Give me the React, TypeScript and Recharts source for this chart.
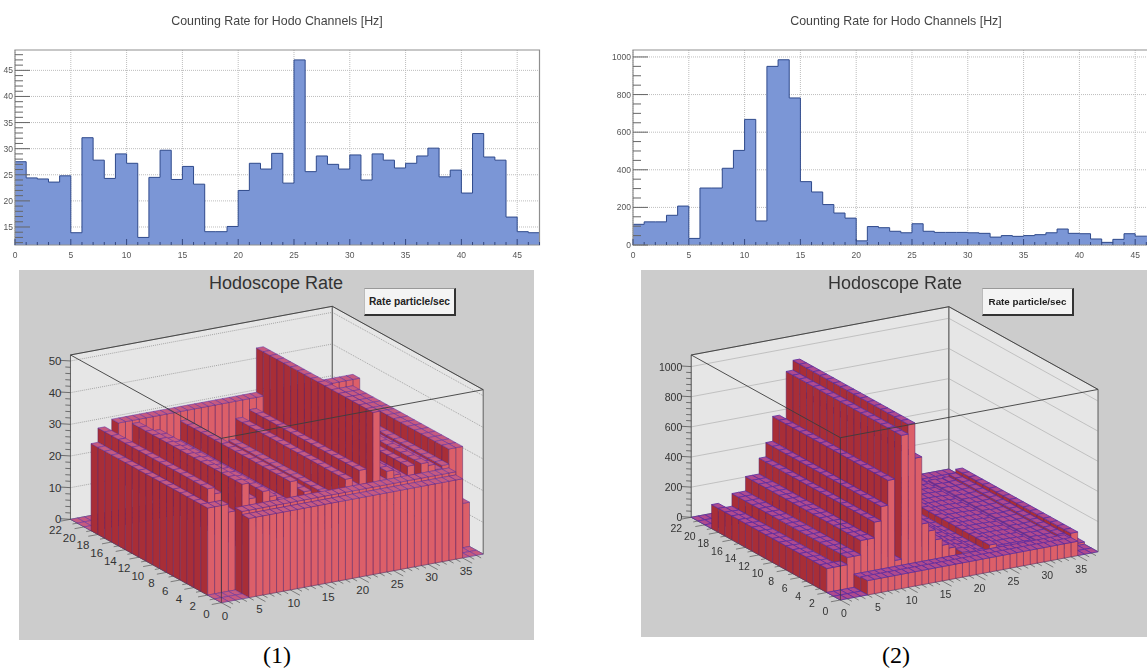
import { Area, AreaChart, CartesianGrid, ReferenceArea, Scatter, ScatterChart, XAxis, YAxis } from 'recharts'

// counting rate per hodoscope channel, one value per bin
const channels = [0, 1, 2, 3, 4, 5, 6, 7, 8, 9, 10, 11, 12, 13, 14, 15, 16, 17, 18, 19, 20, 21, 22, 23, 24, 25, 26, 27, 28, 29, 30, 31, 32, 33, 34, 35, 36, 37, 38, 39, 40, 41, 42, 43, 44, 45, 46, 47]
const ratesA = [27.5, 24.4, 24.2, 23.6, 24.8, 13.9, 32.1, 27.8, 24.3, 29, 27.2, 13, 24.5, 29.7, 24.1, 26.6, 23.2, 14.1, 14.1, 15.1, 22, 27.2, 26.1, 29.1, 23.4, 47, 25.6, 28.6, 27, 26.1, 28.8, 24, 29, 27.8, 26.3, 27.2, 28.6, 30.1, 24.6, 25.9, 21.5, 32.9, 28.4, 27.8, 16.9, 14.1, 13.9, 13.9]
const ratesB = [110, 123, 123, 158, 207, 35, 303, 303, 408, 503, 668, 128, 950, 985, 782, 337, 282, 215, 170, 143, 22, 98, 92, 73, 65, 113, 73, 67, 67, 67, 65, 62, 42, 50, 46, 50, 55, 65, 85, 62, 60, 32, 14, 30, 60, 47, 47, 47]

const xMajor = [0, 5, 10, 15, 20, 25, 30, 35, 40, 45]
const yMajorA = [15, 20, 25, 30, 35, 40, 45]
const yMinorA = [12, 13, 14, 16, 17, 18, 19, 21, 22, 23, 24, 26, 27, 28, 29, 31, 32, 33, 34, 36, 37, 38, 39, 41, 42, 43, 44, 46, 47, 48]
const yMajorB = [0, 200, 400, 600, 800, 1000]
const yMinorB = [50, 100, 150, 250, 300, 350, 450, 500, 550, 650, 700, 750, 850, 900, 950]

// lego plots: ridge height along x, and row height along y
const legoColsA = [27.5, 32, 30, 25, 14, 33, 28, 24.5, 29.5, 27.5, 13, 25, 31, 24.5, 27, 23.5, 14, 14, 15, 22, 28.5, 26, 30.5, 23.5, 48, 26, 28.6, 27, 26, 29, 24, 29, 28, 26.3, 27.2, 32, 32, 0]
const legoRowsA = [25, 26, 14, 14, 13, 14, 14, 13, 14, 14, 14, 13, 14, 14, 14, 13, 14, 14, 34, 0, 0, 0]
const legoColsB = [159, 123, 123, 207, 207, 303, 303, 408, 503, 668, 128, 950, 1015, 782, 337, 282, 215, 170, 143, 22, 98, 92, 73, 65, 113, 73, 67, 67, 67, 65, 62, 42, 50, 46, 50, 65, 90, 0]
const legoRowsB = [95, 88, 15, 14, 15, 14, 15, 14, 15, 14, 15, 14, 15, 14, 15, 14, 15, 14, 40, 0, 0, 0]
const xLegoTicks = [0, 5, 10, 15, 20, 25, 30, 35]
const yLegoTicks = [0, 2, 4, 6, 8, 10, 12, 14, 16, 18, 20, 22]
const zTicksA = [0, 10, 20, 30, 40, 50]
const zTicksB = [0, 200, 400, 600, 800, 1000]

type Style = { fill?: string; stroke?: string; sw?: number; dash?: string; text?: string; anchor?: string; size?: number; dx?: number; dy?: number }
type Pt = { px: number; py: number; face: number; vertex: number; last: boolean }
type View = { ox: number; oy: number; ex: [number, number]; ey: [number, number]; ez: number; zTop: number }
type Look = { top: string; edge: number; grid: string; gridDash?: string }

const NX = 38
const NY = 22

const wallFill = '#e6e6e6'
const darkFace = '#a82e37'
const lightFace = '#dc5f69'
const binEdge = '#5b2466'
const topEdge = '#5a2ca0'

function buildLego(view: View, look: Look, cols: number[], rows: number[], zTicks: number[], zMinorStep: number, fontSize: number) {
  const faces: Style[] = []
  const points: Pt[] = []
  const proj = (x: number, y: number, z: number) => ({
    px: view.ox + x * view.ex[0] + y * view.ey[0],
    py: view.oy + x * view.ex[1] + y * view.ey[1] - z * view.ez,
  })
  const add = (verts: number[][], style: Style) => {
    const face = faces.length
    faces.push(style)
    verts.forEach((v, vertex) => {
      points.push({ ...proj(v[0], v[1], v[2]), face, vertex, last: vertex === verts.length - 1 })
    })
  }
  const height = (i: number, j: number) => {
    if (i < 0 || j < 0) return 0
    if (j < 2) return i >= 4 && i < 35 ? rows[j] : 0
    if (j >= 19) return 0
    // first three ridges start level at the front, and rows only begin after them
    if (i < 3) return j === 2 ? cols[0] : cols[i]
    return Math.max(cols[i], rows[j])
  }
  const zt = view.zTop
  // back walls and floor
  add([[0, NY, 0], [0, NY, zt], [NX, NY, zt], [NX, NY, 0]], { fill: wallFill, stroke: '#777', sw: 0.6 })
  add([[NX, NY, 0], [NX, NY, zt], [NX, 0, zt], [NX, 0, 0]], { fill: wallFill, stroke: '#777', sw: 0.6 })
  add([[0, 0, 0], [0, NY, 0], [NX, NY, 0], [NX, 0, 0]], { fill: wallFill, stroke: '#777', sw: 0.6 })
  for (const z of zTicks) {
    if (z === 0) continue
    add([[0, NY, z], [NX, NY, z], [NX, 0, z]], { stroke: look.grid, sw: 0.7, dash: look.gridDash })
  }
  add([[NX, NY, 0], [NX, NY, zt]], { stroke: '#666', sw: 1 })
  add([[0, 0, 0], [0, NY, 0], [0, NY, zt]], { stroke: '#555', sw: 0.8 })

  // bars, far corner first
  for (let j = NY - 1; j >= 0; j--) {
    for (let i = NX - 1; i >= 0; i--) {
      const h = height(i, j)
      const left = height(i - 1, j)
      const front = height(i, j - 1)
      if (h > left) add([[i, j, left], [i, j, h], [i, j + 1, h], [i, j + 1, left]], { fill: darkFace, stroke: binEdge, sw: 0.5 })
      if (h > front) add([[i, j, front], [i, j, h], [i + 1, j, h], [i + 1, j, front]], { fill: lightFace, stroke: binEdge, sw: 0.5 })
      add([[i, j, h], [i + 1, j, h], [i + 1, j + 1, h], [i, j + 1, h]], { fill: look.top, stroke: topEdge, sw: look.edge })
    }
  }

  // front edges of the box go over the bars
  add([[0, NY, zt], [NX, NY, zt], [NX, 0, zt], [0, 0, zt], [0, NY, zt]], { stroke: '#3c3c3c', sw: 0.9 })
  add([[0, 0, zt], [0, 0, 0]], { stroke: '#333', sw: 0.7 })
  add([[NX, 0, zt], [NX, 0, 0]], { stroke: '#666', sw: 0.8 })

  // axes
  for (let z = 0; z <= zTicks[zTicks.length - 1]; z += zMinorStep) {
    const major = zTicks.includes(z)
    add([[0, NY, z], [0 - (major ? 1 : 0.5), NY + (major ? 0.5 : 0.25), z]], { stroke: '#444', sw: 0.7 })
  }
  zTicks.forEach((z) => add([[0, NY, z]], { text: String(z), anchor: 'end', size: fontSize, dx: -9, dy: 4 }))
  for (let x = 0; x <= 37; x++) {
    add([[x, 0, 0], [x, xLegoTicks.includes(x) ? -1.4 : -0.7, 0]], { stroke: '#444', sw: 0.6 })
  }
  for (let y = 0; y <= NY; y++) {
    add([[0, y, 0], [yLegoTicks.includes(y) ? -1.4 : -0.7, y, 0]], { stroke: '#444', sw: 0.6 })
  }
  xLegoTicks.forEach((x) => add([[x, 0, 0]], { text: String(x), anchor: 'middle', size: fontSize, dx: 3.5, dy: 17 }))
  yLegoTicks.forEach((y) => add([[0, y, 0]], { text: String(y), anchor: 'middle', size: fontSize, dx: -15, dy: 15 }))
  return { faces, points }
}

function makeFaceShape(faces: Style[]) {
  const seen: Record<number, string[]> = {}
  return (props: any) => {
    const { cx, cy, payload } = props
    const list = seen[payload.face] ?? (seen[payload.face] = [])
    list[payload.vertex] = `${cx},${cy}`
    if (!payload.last) return <g />
    const s = faces[payload.face]
    if (s.text) {
      return (
        <text x={cx + (s.dx ?? 0)} y={cy + (s.dy ?? 0)} textAnchor={s.anchor as any} fontSize={s.size} fontFamily="Liberation Sans, Arial, sans-serif" fill="#333">
          {s.text}
        </text>
      )
    }
    const pts = list.join(' ')
    if (s.fill) return <polygon points={pts} fill={s.fill} stroke={s.stroke} strokeWidth={s.sw} />
    return <polyline points={pts} fill="none" stroke={s.stroke} strokeWidth={s.sw} strokeDasharray={s.dash} />
  }
}

function LegoPanel(p: { left: number; width: number; height: number; view: View; look: Look; cols: number[]; rows: number[]; zTicks: number[]; zMinorStep: number; fontSize: number; titleX: number; boxX: number; boxFont: number; blur?: number }) {
  const { faces, points } = buildLego(p.view, p.look, p.cols, p.rows, p.zTicks, p.zMinorStep, p.fontSize)
  return (
    <div style={{ position: 'absolute', left: p.left, top: 270, width: p.width, height: p.height, background: '#cccccc', filter: p.blur ? `blur(${p.blur}px)` : undefined }}>
      <ScatterChart width={p.width} height={p.height} margin={{ top: 0, right: 0, bottom: 0, left: 0 }}>
        <XAxis type="number" dataKey="px" domain={[0, p.width]} hide />
        <YAxis type="number" dataKey="py" domain={[0, p.height]} reversed hide />
        <Scatter data={points} shape={makeFaceShape(faces)} isAnimationActive={false} />
      </ScatterChart>
      <div style={{ position: 'absolute', left: p.titleX - p.left - 100, top: 1, width: 200, textAlign: 'center', fontFamily: 'Liberation Sans, Arial, sans-serif', fontSize: 18, lineHeight: '24px', color: '#333' }}>Hodoscope Rate</div>
      <div style={{ position: 'absolute', left: p.boxX - p.left, top: 18, width: 92, height: 28, boxSizing: 'border-box', background: '#f4f4f4', borderTop: '1px solid #999', borderLeft: '1px solid #bbb', borderRight: '2px solid #333', borderBottom: '2px solid #333', textAlign: 'center', fontFamily: 'Liberation Sans, Arial, sans-serif', fontWeight: 700, fontSize: p.boxFont, lineHeight: '25px', color: '#222', whiteSpace: 'nowrap' }}>Rate particle/sec</div>
    </div>
  )
}

function makeYTick(majors: number[]) {
  return (props: any) => {
    const { x, y, payload } = props
    const major = majors.includes(payload.value)
    return (
      <g>
        <line x1={x} x2={x + (major ? 15 : 8)} y1={y} y2={y} stroke="#666" strokeWidth={1} />
        {major && (
          <text x={x - 2} y={y + 3} textAnchor="end" fontSize={8.5} fill="#555" fontFamily="Liberation Sans, Arial, sans-serif">
            {payload.value}
          </text>
        )}
      </g>
    )
  }
}

function XTick(props: any) {
  const { x, y, payload } = props
  const major = xMajor.includes(payload.value)
  return (
    <g>
      <line x1={x} x2={x} y1={y} y2={y - (major ? 6 : 3)} stroke="#34487f" strokeWidth={1} />
      {major && (
        <text x={x} y={y + 13} textAnchor="middle" fontSize={8.5} fill="#555" fontFamily="Liberation Sans, Arial, sans-serif">
          {payload.value}
        </text>
      )}
    </g>
  )
}

function RateHist(p: { left: number; values: number[]; yDomain: number[]; yMajor: number[]; yMinor: number[]; titleX: number }) {
  const data = channels.map((channel, i) => ({ channel, rate: p.values[i] }))
  const plotW = 524.5
  return (
    <>
      <div style={{ position: 'absolute', left: p.titleX - 150, top: 14, width: 300, textAlign: 'center', fontFamily: 'Liberation Sans, Arial, sans-serif', fontSize: 12.4, lineHeight: '14px', color: '#444', filter: 'blur(0.3px)' }}>Counting Rate for Hodo Channels [Hz]</div>
      <div style={{ position: 'absolute', left: p.left - 30, top: 0, filter: 'blur(0.4px)' }}>
        <AreaChart width={plotW + 50} height={270} data={data} margin={{ top: 50, right: 20, bottom: 24, left: 29 }}>
          <CartesianGrid stroke="#bdbdbd" strokeDasharray="1 1" horizontalValues={p.yMajor} verticalValues={xMajor} />
          <Area type="stepAfter" dataKey="rate" stroke="#2f4a8c" strokeWidth={1} fill="#7b96d6" fillOpacity={1} isAnimationActive={false} dot={false} activeDot={false} />
          <XAxis type="number" dataKey="channel" domain={[0, 47]} ticks={channels} interval={0} height={1} axisLine={false} tickLine={false} tickSize={0} tickMargin={0} tick={XTick} />
          <YAxis type="number" domain={p.yDomain} allowDataOverflow ticks={[...p.yMajor, ...p.yMinor]} interval={0} width={1} axisLine={false} tickLine={false} tickSize={0} tickMargin={0} tick={makeYTick(p.yMajor)} />
          <ReferenceArea x1={0} x2={47} y1={p.yDomain[0]} y2={p.yDomain[1]} fill="none" stroke="#8f8f8f" strokeWidth={1.2} ifOverflow="extendDomain" />
        </AreaChart>
      </div>
    </>
  )
}

const viewA: View = { ox: 202.4, oy: 332.7, ex: [6.89, -1.28], ey: [-6.86, -3.79], ez: 3.167, zTop: 51.9 }
const viewB: View = { ox: 199.4, oy: 330, ex: [6.78, -1.27], ey: [-6.78, -3.76], ez: 0.1507, zTop: 1077 }
const lookA: Look = { top: '#c65a80', edge: 0.5, grid: '#8a8a8a', gridDash: '1 1' }
const lookB: Look = { top: '#b04a8e', edge: 0.8, grid: '#b0b0b0' }

export default function App() {
  return (
    <div style={{ position: 'absolute', left: 0, top: 0, width: 1147, height: 670, overflow: 'hidden', background: '#fff' }}>
      <RateHist left={15} values={ratesA} yDomain={[11.55, 48.9]} yMajor={yMajorA} yMinor={yMinorA} titleX={277} />
      <RateHist left={633} values={ratesB} yDomain={[0, 1037]} yMajor={yMajorB} yMinor={yMinorB} titleX={896} />
      <LegoPanel left={19} width={515} height={370} view={viewA} look={lookA} cols={legoColsA} rows={legoRowsA} zTicks={zTicksA} zMinorStep={2} fontSize={11.5} titleX={276} boxX={364} boxFont={10.2} />
      <LegoPanel left={641} width={506} height={367} view={viewB} look={lookB} cols={legoColsB} rows={legoRowsB} zTicks={zTicksB} zMinorStep={40} fontSize={10.5} titleX={895} boxX={982} boxFont={9.8} blur={0.5} />
      <div style={{ position: 'absolute', left: 227, top: 640, width: 100, textAlign: 'center', fontFamily: 'Liberation Serif, Times New Roman, serif', fontSize: 24, lineHeight: '30px', color: '#000' }}>(1)</div>
      <div style={{ position: 'absolute', left: 846, top: 640, width: 100, textAlign: 'center', fontFamily: 'Liberation Serif, Times New Roman, serif', fontSize: 24, lineHeight: '30px', color: '#000' }}>(2)</div>
    </div>
  )
}
